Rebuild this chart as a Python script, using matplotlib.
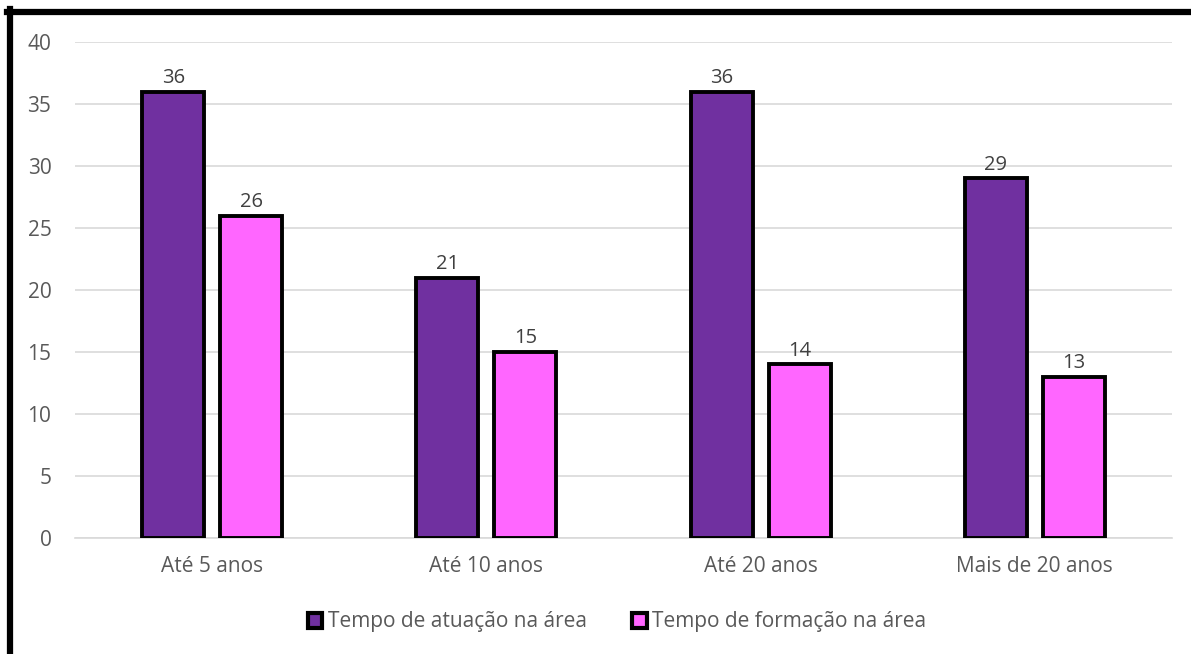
import matplotlib
matplotlib.use("Agg")
import matplotlib.pyplot as plt
import numpy as np
from matplotlib.lines import Line2D
from matplotlib.patches import Patch

plt.rcParams['font.family'] = ['Open Sans', 'DejaVu Sans']

categories = ["Até 5 anos", "Até 10 anos", "Até 20 anos", "Mais de 20 anos"]
atuacao = [36, 21, 36, 29]
formacao = [26, 15, 14, 13]
series_names = ["Tempo de atuação na área", "Tempo de formação na área"]
colors = ["#7030A0", "#FF66FF"]
yticks = [0, 5, 10, 15, 20, 25, 30, 35, 40]

fig = plt.figure(figsize=(11.91, 6.54), dpi=100)
ax = fig.add_axes([75 / 1191, 1 - 538 / 654, 1097 / 1191, (538 - 42) / 654])

x = np.arange(len(categories))
width = 0.226
offset = 0.142
text_color = "#595959"

for vals, off, col in zip([atuacao, formacao], [-offset, offset], colors):
    bars = ax.bar(x + off, vals, width, color=col, edgecolor="black", linewidth=2.8, zorder=3)
    for b, v in zip(bars, vals):
        ax.text(b.get_x() + b.get_width() / 2, v + 0.3, str(v), ha="center", va="bottom",
                fontsize=14.5, color="#404040", zorder=4)

ax.set_xlim(-0.5, len(categories) - 0.5)
ax.set_ylim(0, 40)
ax.set_yticks(yticks)
ax.set_xticks(x)
ax.set_xticklabels(categories)
ax.tick_params(axis="both", length=0, labelsize=15, colors=text_color)
ax.tick_params(axis="y", pad=17)
ax.tick_params(axis="x", pad=13)
ax.grid(axis="y", color="#d9d9d9", linewidth=1.2, zorder=0)
for s in ["top", "right", "left"]:
    ax.spines[s].set_visible(False)
ax.spines["bottom"].set_color("#d9d9d9")
ax.spines["bottom"].set_linewidth(1.2)

handles = [Patch(facecolor=c, edgecolor="black", linewidth=3) for c in colors]
fig.legend(handles, series_names, loc="center", bbox_to_anchor=(617 / 1191, 1 - 622 / 654),
           ncol=2, frameon=False, fontsize=15, labelcolor=text_color,
           handlelength=0.7, handleheight=0.7, handletextpad=0.25, columnspacing=2.2)

# frame edges along the top and left of the figure
fig.add_artist(Line2D([7 / 1191, 1.0], [1 - 12 / 654, 1 - 12 / 654], color="black", linewidth=4.5))
fig.add_artist(Line2D([10 / 1191, 10 / 1191], [0.0, 1 - 9 / 654], color="black", linewidth=4.5))

fig.savefig("out.png", dpi=100)
